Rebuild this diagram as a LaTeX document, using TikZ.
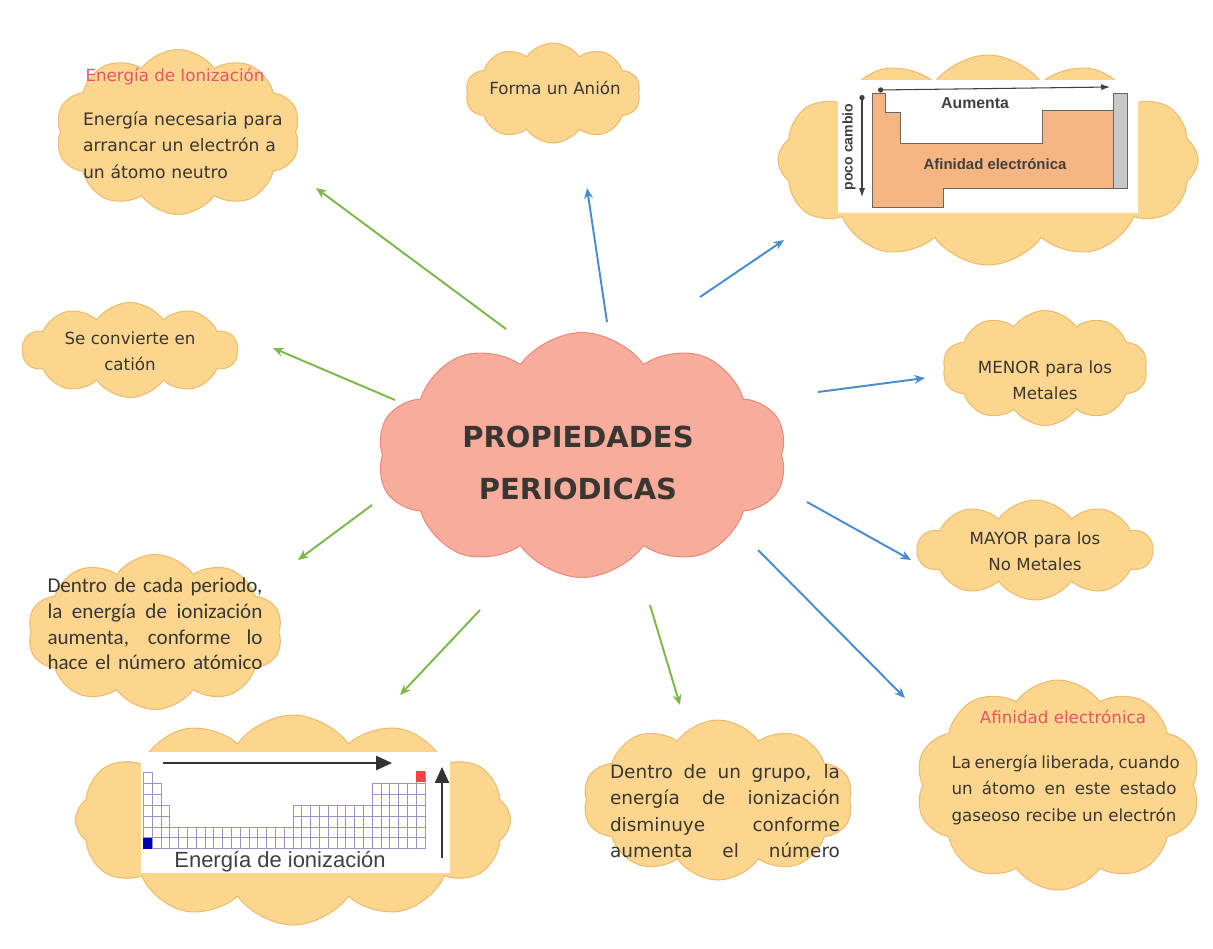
\documentclass[tikz,border=0pt]{standalone}
\usepackage{fontspec}
\setmainfont{DejaVu Sans}
\newfontfamily\calibri{Carlito}
\newfontfamily\arial{Liberation Sans}
\usetikzlibrary{shapes.symbols, arrows.meta, positioning, calc}

\definecolor{nubefill}{RGB}{252,214,142}
\definecolor{nubeborde}{RGB}{238,188,110}
\definecolor{centrofill}{RGB}{247,172,156}
\definecolor{centroborde}{RGB}{234,140,124}
\definecolor{titulo}{RGB}{232,84,104}
\definecolor{texto}{RGB}{58,54,50}
\definecolor{verde}{RGB}{122,184,72}
\definecolor{azul}{RGB}{72,140,208}
\definecolor{naranja}{RGB}{245,182,132}
\definecolor{gris}{RGB}{200,200,200}
\definecolor{rejilla}{RGB}{150,150,205}

\newlength{\anchol}
\newcommand{\linea}[1]{{\spaceskip=0pt\xspaceskip=0pt\hbox to \anchol{#1}}}

\tikzset{
  nube/.style 2 args={cloud, cloud puffs=10, cloud puff arc=110, cloud ignores aspect, fill=nubefill,
    draw=nubeborde, line width=0.6pt, minimum width=#1, minimum height=#2, inner sep=0pt},
  textonube/.style={text=texto, font=\fontsize{9.5}{15}\selectfont, inner sep=0pt},
  titulonube/.style={text=titulo, font=\fontsize{9.5}{15}\selectfont, inner sep=0pt},
  flechaverde/.style={draw=verde, line width=1.1pt, -{Stealth[length=6pt,width=5pt]}},
  flechaazul/.style={draw=azul, line width=1.1pt, -{Stealth[length=6pt,width=5pt]}},
  celda/.style={draw=rejilla, line width=0.3pt},
  flechatabla/.style={draw=black!80, line width=1pt, -{Triangle[length=9pt,width=8pt]}},
}

\begin{document}
\begin{tikzpicture}[x=0.02cm, y=-0.02cm]
  \useasboundingbox[fill=white] (0,0) rectangle (1213,948);

  % Nubes
  \node[nube={4.9cm}{3.3cm}] (nube-ion) at (178,132) {};
  \node[nube={3.5cm}{2.0cm}] (nube-anion) at (553,93) {};
  \node[nube={8.4cm}{4.2cm}, cloud puffs=12] (nube-afin-tabla) at (988,160) {};
  \node[nube={4.3cm}{1.9cm}] (nube-cation) at (130,350) {};
  \node[nube={4.1cm}{2.3cm}] (nube-menor) at (1045,368) {};
  \node[nube={4.7cm}{2.0cm}] (nube-mayor) at (1035,550) {};
  \node[nube={8.2cm}{4.9cm}, fill=centrofill, draw=centroborde] (centro) at (582,455) {};
  \node[nube={5.1cm}{3.1cm}] (nube-periodo) at (155,632) {};
  \node[nube={8.7cm}{4.2cm}, cloud puffs=12] (nube-ion-tabla) at (293,820) {};
  \node[nube={5.4cm}{3.2cm}] (nube-grupo) at (718,800) {};
  \node[nube={5.7cm}{4.2cm}] (nube-afin) at (1058,785) {};

  % Tabla: afinidad electronica
  \fill[white] (838,80) rectangle (1138,213);
  \draw[fill=naranja, draw=black!60, line width=0.4pt]
    (872,93) -- (885,93) -- (885,112) -- (900,112) -- (900,143) -- (1042,143)
    -- (1042,110) -- (1113,110) -- (1113,188) -- (943,188) -- (943,207)
    -- (872,207) -- cycle;
  \draw[fill=gris, draw=black!60, line width=0.4pt] (1113,93) rectangle (1127,188);
  \coordinate (aum-a) at (878,90);
  \coordinate (aum-b) at (1110,87);
  \coordinate (poco-a) at (862,95);
  \coordinate (poco-b) at (862,197);
  \draw[black!75, line width=0.6pt, {Circle[length=3pt]}-{Latex[length=5pt,width=3.5pt]}] (aum-a) -- (aum-b);
  \draw[black!75, line width=0.6pt, {Circle[length=3pt]}-{Latex[length=5pt,width=3.5pt]}] (poco-a) -- (poco-b);
  \node[font=\arial\bfseries\fontsize{9}{10}\selectfont, text=black!75] (aumenta) at (975,103) {Aumenta};
  \node[font=\arial\bfseries\fontsize{8.5}{10}\selectfont, text=black!75] (afin-txt) at (995,164) {Afinidad electrónica};
  \node[font=\arial\bfseries\fontsize{8}{10}\selectfont, text=black!75, rotate=90] (poco) at (849,147) {poco cambio};

  % Tabla: energia de ionizacion
  \fill[white] (141,752) rectangle (450,873);
  \foreach \ca/\cb/\r in {1/1/1, 2/2/2, 3/3/4, 4/17/6, 18/26/4, 27/31/2, 32/32/1} {
    \foreach \c in {\ca,...,\cb} {
      \foreach \rr in {\r,...,7} {
        \draw[celda] ({143.3+(\c-1)*8.8},{772.7+(\rr-1)*10.83}) rectangle ++(8.8,10.83);
      }
    }
  }
  \fill[blue!70!black] (143.3,{772.7+6*10.83}) rectangle ++(8.8,10.83);
  \fill[red!75] ({143.3+31*8.8},771) rectangle ++(8.8,10.83);
  \coordinate (ei-a) at (163,763);
  \coordinate (ei-b) at (392,763);
  \coordinate (ei-c) at (442,858);
  \coordinate (ei-d) at (442,767);
  \draw[flechatabla] (ei-a) -- (ei-b);
  \draw[flechatabla] (ei-c) -- (ei-d);
  \node[font=\arial\fontsize{12.5}{14}\selectfont, text=black!75] (ei-txt) at (280,862) {Energía de ionización};

  % Textos
  \node[titulonube] (t-ion) at (175,77) {Energía de Ionización};
  \node[textonube, font=\fontsize{9.8}{15}\selectfont, text width=4.2cm, align=left] (b-ion) at (188,145)
    {Energía necesaria para\\arrancar un electrón a\\un átomo neutro};
  \node[textonube] (t-anion) at (555,88) {Forma un Anión};
  \node[textonube, align=center] (t-cation) at (130,351) {Se convierte en\\catión};
  \node[textonube, align=center] (t-menor) at (1045,380) {MENOR para los\\Metales};
  \node[textonube, align=center] (t-mayor) at (1035,551) {MAYOR para los\\No Metales};
  \node[text=texto, font=\bfseries\fontsize{16.5}{30}\selectfont, align=center, inner sep=0pt] (t-centro) at (578,463)
    {PROPIEDADES\\PERIODICAS};
  \node[text=texto, font=\calibri\fontsize{12}{14.7}\selectfont, text width=4.3cm, inner sep=0pt] (t-periodo) at (155,624) {%
    \setlength{\anchol}{4.3cm}%
    \linea{Dentro de cada periodo,}
    \linea{la energía de ionización}
    \linea{aumenta, conforme lo}
    \linea{hace el número atómico}};
  \node[textonube, font=\fontsize{10.5}{15}\selectfont, text width=4.6cm] (t-grupo) at (725,811) {%
    \setlength{\anchol}{4.6cm}%
    \linea{Dentro de un grupo, la}
    \linea{energía de ionización}
    \linea{disminuye conforme}
    \linea{aumenta el número}};
  \node[titulonube] (t-afin) at (1063,717) {Afinidad electrónica};
  \node[textonube, text width=4.5cm] (b-afin) at (1064,790) {%
    \setlength{\anchol}{4.5cm}%
    \linea{La energía liberada, cuando}
    \linea{un átomo en este estado}
    \linea{gaseoso recibe un electrón}};

  % Flechas verdes
  \coordinate (g1a) at (506,329); \coordinate (g1b) at (316,188);
  \coordinate (g2a) at (395,400); \coordinate (g2b) at (273,348);
  \coordinate (g3a) at (372,505); \coordinate (g3b) at (298,560);
  \coordinate (g4a) at (480,610); \coordinate (g4b) at (400,695);
  \coordinate (g5a) at (650,605); \coordinate (g5b) at (680,705);
  \foreach \n in {1,...,5} {
    \draw[flechaverde] (g\n a) -- (g\n b);
  }

  % Flechas azules
  \coordinate (b1a) at (607,322); \coordinate (b1b) at (587,188);
  \coordinate (b2a) at (700,297); \coordinate (b2b) at (784,240);
  \coordinate (b3a) at (818,392); \coordinate (b3b) at (925,378);
  \coordinate (b4a) at (807,502); \coordinate (b4b) at (911,560);
  \coordinate (b5a) at (758,550); \coordinate (b5b) at (905,698);
  \foreach \n in {1,...,5} {
    \draw[flechaazul] (b\n a) -- (b\n b);
  }
\end{tikzpicture}
\end{document}
